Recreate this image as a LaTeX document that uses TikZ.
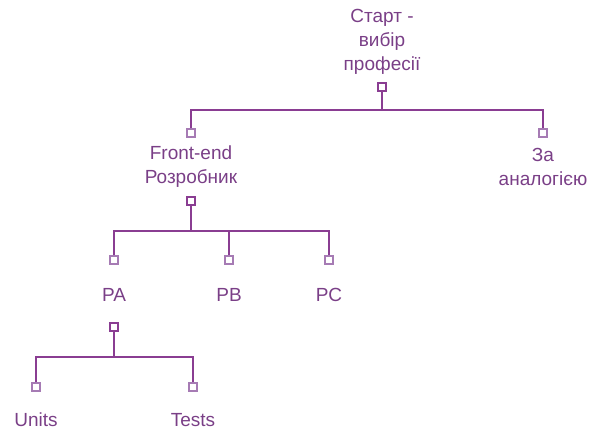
\documentclass[tikz,border=0pt]{standalone}
\usepackage{fontspec}
\setmainfont{Liberation Sans}
\usetikzlibrary{positioning}

\definecolor{txtpurple}{HTML}{7A3F87}
\definecolor{linepurple}{HTML}{8A3D92}
\definecolor{lightpurple}{HTML}{A67BB4}

\begin{document}
\begin{tikzpicture}[
      x=1pt, y=-1pt,
      every node/.style={font=\fontsize{19}{24}\selectfont, text=txtpurple},
      topic/.style={align=center, inner sep=0pt},
      parentsq/.style={draw=linepurple, fill=white, line width=1.8pt,
        minimum size=8pt, inner sep=0pt},
      childsq/.style={draw=lightpurple, fill=white, line width=1.5pt,
        minimum size=8pt, inner sep=0pt},
      branch/.style={draw=linepurple, line width=1.5pt},
      stem/.style={draw=linepurple, line width=2.2pt}
    ]

    \useasboundingbox (0,0) rectangle (593,432);

    % Root
    \node[topic] (start) at (382, 42) {Старт -\\вибір\\професії};
    \node[parentsq] (startsq) at (382, 87) {};
    \coordinate (startj) at (382, 110);

    % First level
    \node[childsq] (frontin) at (191, 133) {};
    \node[topic] (front) at (191, 167) {Front-end\\Розробник};
    \node[parentsq] (frontsq) at (191, 201) {};
    \coordinate (frontj) at (191, 231);

    \node[childsq] (analogin) at (543, 133) {};
    \node[topic] (analog) at (543, 167) {За\\аналогією};

    % Second level
    \node[childsq] (pain) at (114, 260) {};
    \node[topic] (pa) at (114, 295) {PA};
    \node[parentsq] (pasq) at (114, 327) {};
    \coordinate (paj) at (114, 357);

    \node[childsq] (pbin) at (229, 260) {};
    \node[topic] (pb) at (229, 295) {PB};

    \node[childsq] (pcin) at (329, 260) {};
    \node[topic] (pc) at (329, 295) {PC};

    % Third level
    \node[childsq] (unitsin) at (36, 387) {};
    \node[topic] (units) at (36, 420) {Units};

    \node[childsq] (testsin) at (193, 387) {};
    \node[topic] (tests) at (193, 420) {Tests};

    % Connectors
    \draw[branch] (startsq) -- (startj);
    \draw[branch] (frontin) |- (startj) -| (analogin);

    \draw[stem] (frontsq) -- (frontj);
    \draw[branch] (pain) |- (frontj) -| (pcin);
    \draw[branch] (frontj -| pbin) -- (pbin);

    \draw[stem] (pasq) -- (paj);
    \draw[branch] (unitsin) |- (paj) -| (testsin);

  \end{tikzpicture}
\end{document}
